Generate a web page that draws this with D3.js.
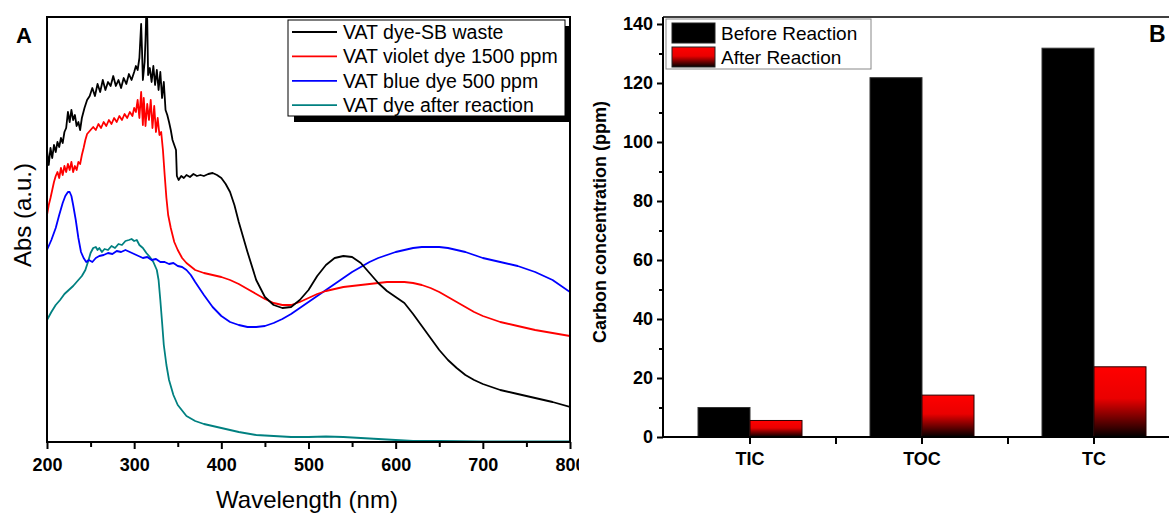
<!DOCTYPE html>
<html>
<head>
    <meta charset="utf-8" />
    <title>VAT dye spectra and carbon content</title>
    <script src="https://cdnjs.cloudflare.com/ajax/libs/d3/7.8.5/d3.min.js" type="text/JavaScript"></script>
    <style>
      body { margin: 0; background: #fff; }
      svg { font-family: Arial, "Liberation Sans", sans-serif; }
    </style>
</head>
<body>
  <svg width="1169" height="514"></svg>
  <script>
    // panel A: [wavelength nm, absorbance a.u.]
    let wasteData = [[200,2.92],[202,2.77],[204,2.94],[206,2.84],[208,2.97],[210,2.90],[212,3.00],[214,2.95],[216,3.04],[218,2.99],
      [220,3.10],[222,3.14],[224,3.30],[226,3.20],[228,3.32],[230,3.22],[232,3.27],[234,3.16],[236,3.20],[238,3.12],[240,3.24],
      [243,3.34],[246,3.42],[249,3.46],[252,3.54],[255,3.46],[258,3.58],[261,3.50],[264,3.62],[267,3.52],[270,3.60],[273,3.56],
      [276,3.66],[279,3.56],[282,3.62],[285,3.54],[288,3.64],[291,3.58],[294,3.68],[297,3.62],[300,3.70],[302,3.76],[304,3.72],
      [306,3.84],[308,4.18],[309,3.92],[310,3.62],[312,3.80],[313,4.02],[314,4.32],[315,4.22],[316,3.67],[318,3.74],[320,3.60],
      [322,3.76],[324,3.57],[326,3.72],[328,3.52],[330,3.70],[332,3.44],[334,3.60],[336,3.32],[338,3.27],[340,3.20],[342,3.12],
      [344,3.02],[346,2.97],[348,2.92],[349,2.66],[351,2.62],[354,2.66],[357,2.64],[360,2.67],[364,2.65],[368,2.68],[372,2.66],
      [376,2.67],[380,2.66],[385,2.68],[390,2.69],[395,2.67],[400,2.64],[405,2.58],[410,2.50],[415,2.37],[420,2.20],[430,1.90],
      [440,1.62],[450,1.45],[460,1.37],[470,1.34],[480,1.35],[490,1.42],[500,1.52],[510,1.66],[520,1.77],[530,1.84],[540,1.86],
      [550,1.85],[560,1.79],[570,1.69],[580,1.59],[590,1.51],[600,1.45],[610,1.39],[620,1.28],[630,1.16],[640,1.04],[650,0.92],
      [660,0.82],[670,0.74],[680,0.67],[690,0.62],[700,0.58],[720,0.52],[740,0.48],[760,0.44],[780,0.40],[800,0.35]]

    let violetData = [[200,2.27],[202,2.37],[204,2.44],[206,2.52],[208,2.60],[210,2.66],[212,2.70],[214,2.64],[216,2.74],[218,2.67],
      [220,2.76],[222,2.70],[224,2.78],[226,2.72],[228,2.80],[230,2.70],[232,2.76],[234,2.72],[236,2.80],[238,2.78],[240,2.87],
      [242,2.94],[244,3.02],[246,3.08],[248,3.10],[250,3.12],[253,3.15],[256,3.12],[259,3.18],[262,3.14],[265,3.20],[268,3.16],
      [271,3.22],[274,3.18],[277,3.24],[280,3.20],[283,3.26],[286,3.22],[289,3.28],[292,3.24],[295,3.30],[298,3.26],[300,3.34],
      [302,3.30],[304,3.42],[306,3.24],[308,3.50],[310,3.17],[311,3.44],[313,3.16],[315,3.38],[317,3.22],[319,3.42],[321,3.14],
      [323,3.36],[325,3.10],[327,3.24],[329,3.07],[331,3.10],[333,2.92],[335,2.67],[337,2.44],[339,2.27],[342,2.14],[346,2.00],
      [350,1.92],[355,1.84],[360,1.79],[370,1.72],[380,1.69],[390,1.67],[400,1.65],[410,1.62],[420,1.58],[430,1.53],[440,1.48],
      [450,1.43],[460,1.39],[470,1.37],[480,1.37],[490,1.40],[500,1.44],[510,1.48],[520,1.51],[530,1.53],[540,1.55],[550,1.56],
      [560,1.57],[570,1.58],[580,1.59],[590,1.60],[600,1.60],[610,1.60],[620,1.59],[630,1.57],[640,1.54],[650,1.50],[660,1.45],
      [670,1.40],[680,1.35],[690,1.30],[700,1.26],[720,1.20],[740,1.16],[760,1.12],[780,1.09],[800,1.06]]

    let blueData = [[200,1.92],[205,2.02],[210,2.14],[214,2.27],[218,2.39],[221,2.46],[224,2.50],[226,2.50],[228,2.46],[230,2.37],
      [233,2.22],[236,2.04],[239,1.90],[242,1.84],[245,1.80],[248,1.82],[252,1.80],[256,1.84],[260,1.86],[265,1.87],[270,1.89],
      [275,1.88],[280,1.91],[285,1.90],[290,1.92],[295,1.90],[300,1.88],[305,1.86],[310,1.84],[315,1.85],[320,1.82],[325,1.83],
      [330,1.80],[335,1.80],[340,1.78],[345,1.79],[350,1.76],[355,1.75],[360,1.72],[365,1.67],[370,1.60],[380,1.47],[390,1.35],
      [400,1.26],[410,1.20],[420,1.17],[430,1.15],[440,1.15],[450,1.16],[460,1.19],[470,1.23],[480,1.28],[490,1.34],[500,1.40],
      [510,1.46],[520,1.52],[530,1.58],[540,1.64],[550,1.70],[560,1.75],[570,1.80],[580,1.84],[590,1.87],[600,1.90],[610,1.92],
      [620,1.94],[630,1.95],[640,1.95],[650,1.95],[660,1.94],[670,1.92],[680,1.90],[690,1.87],[700,1.84],[720,1.80],[740,1.76],
      [760,1.70],[780,1.62],[800,1.50]]

    let afterData = [[200,1.22],[205,1.30],[210,1.37],[215,1.42],[220,1.48],[225,1.52],[230,1.56],[235,1.61],[240,1.66],[244,1.72],
      [247,1.80],[250,1.89],[253,1.94],[256,1.95],[258,1.92],[260,1.94],[263,1.90],[266,1.93],[270,1.92],[274,1.96],[278,1.94],
      [282,1.98],[286,1.97],[290,2.01],[294,2.02],[297,2.03],[300,2.01],[303,2.02],[306,1.97],[310,1.94],[314,1.89],[318,1.85],
      [322,1.80],[326,1.72],[328,1.62],[330,1.42],[332,1.20],[334,0.97],[337,0.77],[340,0.62],[345,0.47],[350,0.37],[360,0.26],
      [370,0.21],[380,0.18],[390,0.16],[400,0.14],[420,0.10],[440,0.07],[460,0.06],[480,0.05],[500,0.05],[520,0.055],[540,0.05],
      [560,0.04],[580,0.03],[600,0.02],[620,0.01],[650,0.01],[700,0.005],[800,0.005]]

    let seriesNames = ['VAT dye-SB waste', 'VAT violet dye 1500 ppm', 'VAT blue dye 500 ppm', 'VAT dye after reaction']
    let seriesColors = ['#000000', '#ff0000', '#0000ff', '#008080']
    let wlTicks = [200, 300, 400, 500, 600, 700, 800]
    let wlMinor = [250, 350, 450, 550, 650, 750]

    // panel B
    let categories = ['TIC', 'TOC', 'TC']
    let beforeReaction = [10, 121.8, 131.8]
    let afterReaction = [5.6, 14.2, 23.8]
    let groupNames = ['Before Reaction', 'After Reaction']
    let ppmTicks = [0, 20, 40, 60, 80, 100, 120, 140]
    let ppmMinor = [10, 30, 50, 70, 90, 110, 130]

    let svg = d3.select('svg')

    let defs = svg.append('defs')
    let grad = defs.append('linearGradient').attr('id', 'redFade')
      .attr('x1', 0).attr('y1', 0).attr('x2', 0).attr('y2', 1)
    grad.append('stop').attr('offset', '0%').attr('stop-color', '#ff0000')
    grad.append('stop').attr('offset', '45%').attr('stop-color', '#ea0000')
    grad.append('stop').attr('offset', '100%').attr('stop-color', '#000000')
    defs.append('clipPath').attr('id', 'clipA')
      .append('rect').attr('x', 47).attr('y', 17).attr('width', 523).attr('height', 425)

    // ---------- panel A ----------
    let xScale = d3.scaleLinear().domain([200, 800]).range([47, 570])
    let yScale = d3.scaleLinear().domain([0, 4.25]).range([442, 17])

    let line = d3.line()
      .x(function(d) { return xScale(d[0]) })
      .y(function(d) { return yScale(d[1]) })

    let allSeries = [wasteData, violetData, blueData, afterData]
    let drawOrder = [3, 2, 1, 0]
    svg.append('g').attr('clip-path', 'url(#clipA)')
      .selectAll('path.spec')
      .data(drawOrder)
      .enter()
      .append('path')
      .attr('class', 'spec')
      .attr('d', function(i) { return line(allSeries[i]) })
      .style('fill', 'none')
      .style('stroke', function(i) { return seriesColors[i] })
      .style('stroke-width', '1.8px')
      .style('stroke-linejoin', 'round')

    let xAxis = d3.axisBottom(xScale).tickValues(wlTicks).tickSize(7).tickPadding(9)
    svg.append('g').attr('id', 'xAxisA').attr('transform', 'translate(0,442)').call(xAxis)
    let xMinor = d3.axisBottom(xScale).tickValues(wlMinor).tickSize(5).tickFormat('')
    svg.append('g').attr('id', 'xMinorA').attr('transform', 'translate(0,442)').call(xMinor)

    svg.append('rect')
      .attr('x', 47).attr('y', 17).attr('width', 523).attr('height', 425)
      .style('fill', 'none').style('stroke', 'black').style('stroke-width', '2px')

    // legend with drop shadow
    let legA = svg.append('g').attr('transform', 'translate(288,20)')
    legA.append('rect').attr('x', 6).attr('y', 6).attr('width', 277).attr('height', 96).style('fill', 'black')
    legA.append('rect').attr('width', 277).attr('height', 96)
      .style('fill', 'white').style('stroke', 'black').style('stroke-width', '1px')
    legA.selectAll('g.entry')
      .data(seriesNames)
      .enter()
      .append('g')
      .attr('class', 'entry')
      .attr('transform', function(d, i) { return 'translate(0,' + (12 + i * 24.4) + ')' })
      .each(function(d, i) {
        d3.select(this).append('line')
          .attr('x1', 4).attr('x2', 49).attr('y1', 0).attr('y2', 0)
          .style('stroke', seriesColors[i]).style('stroke-width', '1.8px')
        d3.select(this).append('text')
          .attr('x', 55).attr('y', 7)
          .style('font-size', '19.5px')
          .text(d)
      })

    svg.append('text').attr('x', 307).attr('y', 508)
      .attr('text-anchor', 'middle').style('font-size', '24px').text('Wavelength (nm)')
    svg.append('text').attr('transform', 'translate(31,215) rotate(-90)')
      .attr('text-anchor', 'middle').style('font-size', '24px').text('Abs (a.u.)')
    svg.append('text').attr('x', 16).attr('y', 43)
      .style('font-size', '22px').style('font-weight', 'bold').text('A')

    // ---------- panel B ----------
    svg.append('rect').attr('x', 579).attr('y', 0).attr('width', 590).attr('height', 514).style('fill', 'white')

    let xBand = d3.scaleBand().domain(categories).range([664, 1180])
    let inner = d3.scaleBand().domain(groupNames).range([0, 104])
    let yB = d3.scaleLinear().domain([0, 140]).range([437, 24])

    svg.append('line').attr('x1', 663).attr('x2', 1169).attr('y1', 17).attr('y2', 17)
      .style('stroke', 'black').style('stroke-width', '1.5px')

    svg.selectAll('g.cat')
      .data(categories)
      .enter()
      .append('g')
      .attr('class', 'cat')
      .attr('transform', function(d) {
        return 'translate(' + (xBand(d) + xBand.bandwidth() / 2 - 52) + ',0)'
      })
      .each(function(d, i) {
        d3.select(this).append('rect')
          .attr('x', inner('Before Reaction')).attr('width', inner.bandwidth())
          .attr('y', yB(beforeReaction[i])).attr('height', yB(0) - yB(beforeReaction[i]))
          .style('fill', 'black').style('stroke', '#333').style('stroke-width', '1px')
        d3.select(this).append('rect')
          .attr('x', inner('After Reaction')).attr('width', inner.bandwidth())
          .attr('y', yB(afterReaction[i])).attr('height', yB(0) - yB(afterReaction[i]))
          .style('fill', 'url(#redFade)').style('stroke', '#2a0000').style('stroke-width', '1px')
      })

    let yAxisB = d3.axisLeft(yB).tickValues(ppmTicks).tickSize(6).tickPadding(4)
    svg.append('g').attr('id', 'yAxisB').attr('transform', 'translate(663,0)').call(yAxisB)
    let yMinorB = d3.axisLeft(yB).tickValues(ppmMinor).tickSize(4).tickFormat('')
    svg.append('g').attr('id', 'yMinorB').attr('transform', 'translate(663,0)').call(yMinorB)
    svg.append('line').attr('x1', 663).attr('x2', 663).attr('y1', 17).attr('y2', 438)
      .style('stroke', 'black').style('stroke-width', '2px')

    let xAxisB = d3.axisBottom(xBand).tickSize(7).tickPadding(8)
    svg.append('g').attr('id', 'xAxisB').attr('transform', 'translate(0,437)').call(xAxisB)
    svg.append('g').selectAll('line.sep')
      .data(categories.slice(1))
      .enter()
      .append('line')
      .attr('class', 'sep')
      .attr('x1', function(d) { return xBand(d) }).attr('x2', function(d) { return xBand(d) })
      .attr('y1', 437).attr('y2', 444)
      .style('stroke', 'black').style('stroke-width', '2px')
    svg.append('line').attr('x1', 662).attr('x2', 1169).attr('y1', 437).attr('y2', 437)
      .style('stroke', 'black').style('stroke-width', '2px')

    svg.append('text').attr('transform', 'translate(606,222) rotate(-90)')
      .attr('text-anchor', 'middle').style('font-size', '18px').style('font-weight', 'bold')
      .text('Carbon concentration (ppm)')

    let legB = svg.append('g').attr('transform', 'translate(666,19)')
    legB.append('rect').attr('width', 205).attr('height', 50)
      .style('fill', 'white').style('stroke', '#888').style('stroke-width', '1px')
    legB.selectAll('g.entry')
      .data(groupNames)
      .enter()
      .append('g')
      .attr('class', 'entry')
      .attr('transform', function(d, i) { return 'translate(0,' + (4 + i * 24) + ')' })
      .each(function(d, i) {
        d3.select(this).append('rect')
          .attr('x', 6).attr('width', 43).attr('height', 20)
          .style('fill', i === 0 ? 'black' : 'url(#redFade)')
          .style('stroke', '#222').style('stroke-width', '1px')
        d3.select(this).append('text')
          .attr('x', 55).attr('y', 17)
          .style('font-size', '19px')
          .text(d)
      })

    svg.append('text').attr('x', 1149).attr('y', 42)
      .style('font-size', '23px').style('font-weight', 'bold').text('B')

    // axis styling
    d3.selectAll('#xAxisA path.domain, #xMinorA path.domain, #yAxisB path.domain, #yMinorB path.domain, #xAxisB path.domain')
      .style('display', 'none')
    d3.selectAll('#xAxisA line, #xMinorA line, #yAxisB line, #yMinorB line, #xAxisB line')
      .style('stroke', 'black').style('stroke-width', '2px')
    d3.selectAll('#xAxisA text, #yAxisB text, #xAxisB text')
      .style('font-size', '18px').style('font-weight', 'bold').style('font-family', 'Arial, "Liberation Sans", sans-serif')
      .style('fill', 'black')
  </script>
</body>
</html>
